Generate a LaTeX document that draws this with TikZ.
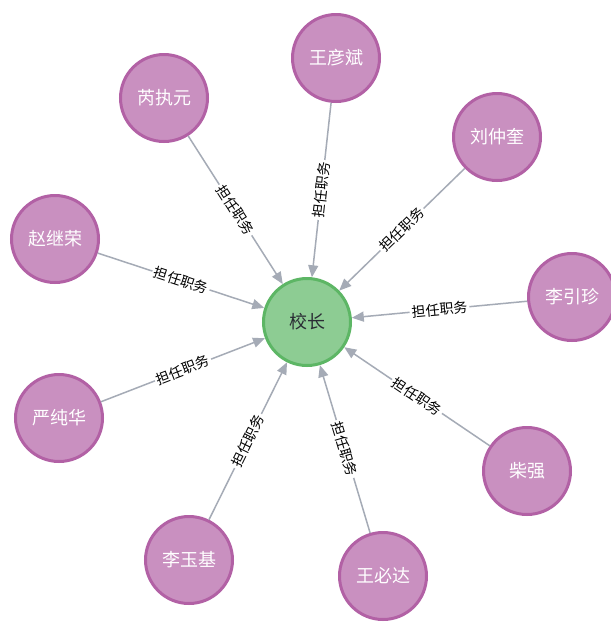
\documentclass[tikz,border=0pt]{standalone}
\usepackage{fontspec}
\setmainfont{Noto Sans CJK SC}
\usetikzlibrary{arrows.meta}

\definecolor{personfill}{HTML}{C990C0}
\definecolor{personline}{HTML}{B261A5}
\definecolor{postfill}{HTML}{8DCC93}
\definecolor{postline}{HTML}{5DB665}
\definecolor{edgecol}{HTML}{A5ABB6}
\definecolor{darktext}{HTML}{2A2C34}

\begin{document}
\begin{tikzpicture}[x=1pt, y=-1pt,
  person/.style={circle, fill=personfill, draw=personline, line width=3pt,
    minimum size=87pt, inner sep=0pt, text=white,
    font=\fontsize{18}{21}\selectfont},
  postnode/.style={circle, fill=postfill, draw=postline, line width=3pt,
    minimum size=87pt, inner sep=0pt, text=darktext,
    font=\fontsize{18}{21}\selectfont},
  role/.style={draw=edgecol, line width=1.5pt,
    -{Triangle[length=12pt, width=10pt]}},
  rolelabel/.style={midway, sloped, fill=white, inner sep=2pt,
    text=black, font=\fontsize{14}{16}\selectfont}]

  % canvas
  \useasboundingbox[fill=white] (0,0) rectangle (611,622);

  % central post
  \node[postnode] (head) at (307,322) {校长};

  % people holding the post
  \node[person] (wyb) at (336,58)  {王彦斌};
  \node[person] (rzy) at (164,98)  {芮执元};
  \node[person] (lzk) at (497,137) {刘仲奎};
  \node[person] (zjr) at (55,239)  {赵继荣};
  \node[person] (lyz) at (572,297) {李引珍};
  \node[person] (ych) at (59,418)  {严纯华};
  \node[person] (cq)  at (527,471) {柴强};
  \node[person] (lyj) at (189,560) {李玉基};
  \node[person] (wbd) at (383,576) {王必达};

  % relations
  \foreach \p in {wyb,rzy,lzk,zjr,lyz,ych,cq,lyj,wbd}{
    \draw[role] (\p) -- (head) node[rolelabel] {担任职务};
  }
\end{tikzpicture}
\end{document}
